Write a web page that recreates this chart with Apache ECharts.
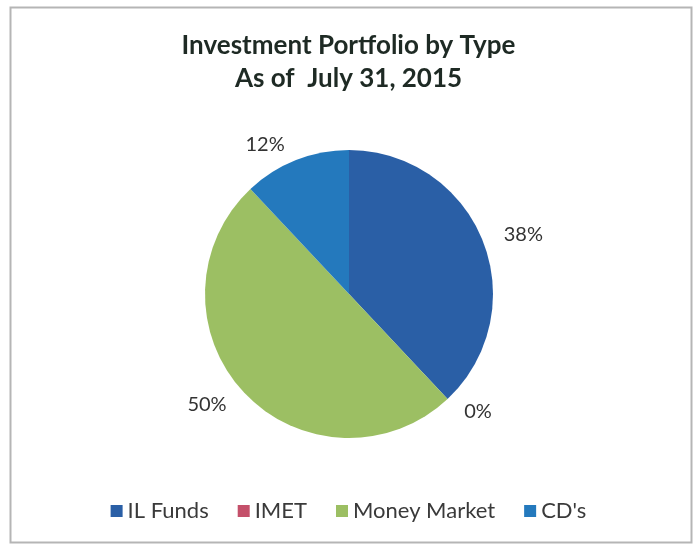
<!DOCTYPE html>
<html>
<head>
<meta charset="utf-8">
<script src="https://cdn.jsdelivr.net/npm/echarts@6/dist/echarts.min.js"></script>
<style>
html,body{margin:0;padding:0;background:#fff;}
#main{width:697px;height:544px;}
</style>
</head>
<body>
<div id="main"></div>
<script>
// === 資料 ===
const TITLE_LINES=['Investment Portfolio by Type','As of  July 31, 2015'];
const CATEGORIES=['IL Funds','IMET','Money Market',"CD's"];
const SHARES=[38,0,50,12];
const COLORS=['#2a5fa6','#c4506a','#9cbf63','#2479bd'];

const FONT='Lato, "Open Sans", sans-serif';

var chart=echarts.init(document.getElementById('main'),null,{renderer:'canvas'});
var data=CATEGORIES.map(function(n,i){return{name:n,value:SHARES[i],itemStyle:{color:COLORS[i]}}});

chart.setOption({
  animation:false,
  backgroundColor:'#fff',
  graphic:[{
    type:'rect',left:8,top:5,
    shape:{width:681,height:535},
    style:{fill:'none',stroke:'#b5b5b5',lineWidth:2}
  }],
  title:{
    text:TITLE_LINES.join('\n'),
    left:'center',top:24,
    textStyle:{fontFamily:FONT,fontSize:26,fontWeight:'bold',color:'#1e2a24',lineHeight:33}
  },
  legend:{
    bottom:17,left:'center',
    icon:'rect',itemWidth:12,itemHeight:12,itemGap:29,
    textStyle:{fontFamily:FONT,fontSize:22,color:'#3a3a3a',padding:[0,0,0,0]},
    data:CATEGORIES
  },
  series:[{
    type:'pie',
    center:[349,294],
    radius:144,
    startAngle:90,
    clockwise:true,
    stillShowZeroSum:true,
    minShowLabelAngle:0,
    avoidLabelOverlap:false,
    label:{
      show:true,position:'outside',
      formatter:function(p){return Math.round(p.value)+'%'},
      fontFamily:FONT,fontSize:20,color:'#333'
    },
    labelLine:{show:false,length:17,length2:0},
    emphasis:{disabled:true},
    itemStyle:{borderWidth:0},
    data:data
  }]
});
</script>
</body>
</html>
